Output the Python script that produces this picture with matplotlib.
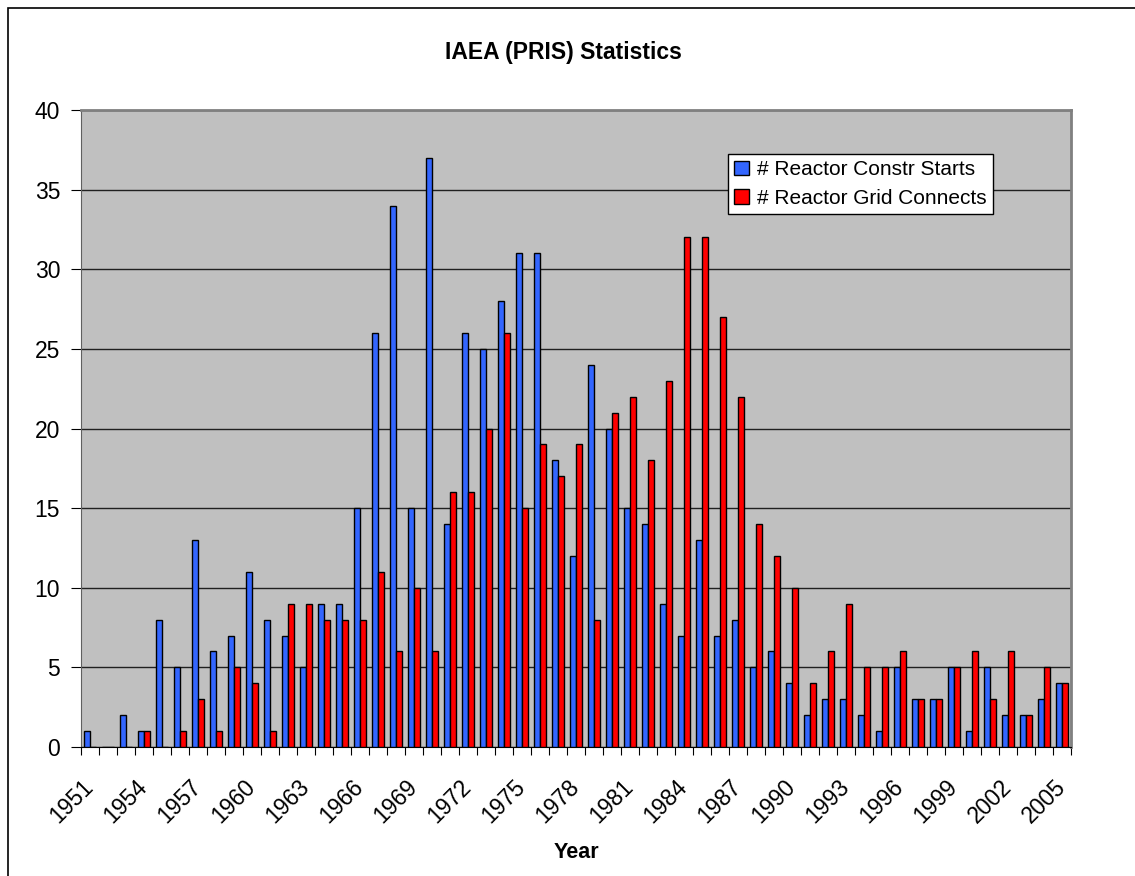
import matplotlib
matplotlib.use('Agg')
import matplotlib.pyplot as plt
import numpy as np
from matplotlib.patches import Rectangle

plt.rcParams['font.family'] = ['Liberation Sans', 'DejaVu Sans']

years = list(range(1951, 2006))
constr_starts = [1, 0, 2, 1, 8, 5, 13, 6, 7, 11,
                 8, 7, 5, 9, 9, 15, 26, 34, 15, 37,
                 14, 26, 25, 28, 31, 31, 18, 12, 24, 20,
                 15, 14, 9, 7, 13, 7, 8, 5, 6, 4,
                 2, 3, 3, 2, 1, 5, 3, 3, 5, 1,
                 5, 2, 2, 3, 4]
grid_connects = [0, 0, 0, 1, 0, 1, 3, 1, 5, 4,
                 1, 9, 9, 8, 8, 8, 11, 6, 10, 6,
                 16, 16, 20, 26, 15, 19, 17, 19, 8, 21,
                 22, 18, 23, 32, 32, 27, 22, 14, 12, 10,
                 4, 6, 9, 5, 5, 6, 3, 3, 5, 6,
                 3, 6, 2, 5, 4]

fig = plt.figure(figsize=(11.35, 8.76), dpi=100)
ax = fig.add_axes([81/1135, 1 - 747/876, (1071 - 81)/1135, (747 - 110)/876])
ax.set_facecolor('#C0C0C0')

x = np.arange(len(years))
w = 0.32
ax.bar(x - w/2, constr_starts, w, color='#3366FF', edgecolor='black', linewidth=1,
       label='# Reactor Constr Starts', zorder=3)
ax.bar(x + w/2, grid_connects, w, color='#FF0000', edgecolor='black', linewidth=1,
       label='# Reactor Grid Connects', zorder=3)

ax.set_xlim(-0.5, len(years) - 0.5)
ax.set_ylim(0, 40)
ax.set_yticks(range(0, 41, 5))
ax.yaxis.grid(True, color='#202020', linewidth=1, zorder=1)
ax.tick_params(axis='y', labelsize=16.5, length=7, direction='out', pad=8)

# tick marks between categories, labels every third year
ax.set_xticks(np.arange(len(years) + 1) - 0.5)
ax.set_xticklabels([])
ax.tick_params(axis='x', which='major', length=6, direction='out')
ax.set_xticks(x[::3], minor=True)
ax.set_xticklabels([str(y) for y in years[::3]], minor=True, rotation=45,
                   ha='right', va='center', rotation_mode='anchor', fontsize=16.5)
ax.tick_params(axis='x', which='minor', length=0, pad=26)

for s in ['top', 'right']:
    ax.spines[s].set_color('#808080')
    ax.spines[s].set_linewidth(2)
ax.spines['left'].set_color('#606060')
ax.spines['bottom'].set_color('black')

fig.text(576/1135, 1 - 853/876, 'Year', ha='center', va='center',
         fontsize=15.5, fontweight='bold')
fig.text(0.496, 1 - 52/876, 'IAEA (PRIS) Statistics', ha='center', va='center',
         fontsize=16.5, fontweight='bold')

leg = ax.legend(loc='upper left', bbox_to_anchor=((728 - 81)/990, (747 - 154)/637),
                fontsize=15, frameon=True, fancybox=False, edgecolor='black',
                framealpha=1, handlelength=0.7, handleheight=0.7, handletextpad=0.4,
                borderpad=0.3, labelspacing=0.45, borderaxespad=0)
leg.get_frame().set_linewidth(1)

fig.patches.append(Rectangle((8/1135, -0.1), 1.2, 1 - 8/876 + 0.1, transform=fig.transFigure,
                             fill=False, edgecolor='black', linewidth=1.2))

fig.savefig('out.png', dpi=100)
